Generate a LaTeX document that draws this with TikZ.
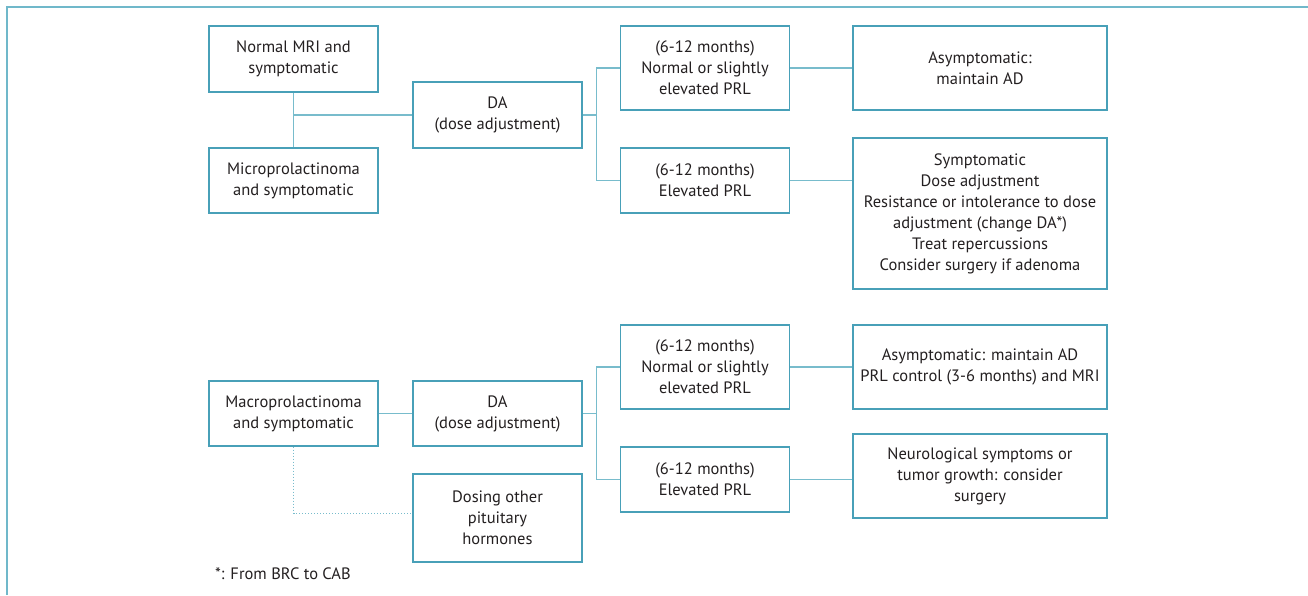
\documentclass[tikz,border=0pt]{standalone}
\usepackage{fontspec}
\setmainfont{PT Sans}
\definecolor{boxteal}{RGB}{72,160,184}
\definecolor{linkteal}{RGB}{120,188,204}
\definecolor{frameteal}{RGB}{112,184,202}
\definecolor{inkblack}{RGB}{35,31,32}
\newcommand*{\boxtextstyle}{\fontsize{16.5}{21}\selectfont\color{inkblack}}

\begin{document}
\begin{tikzpicture}[
   x = 1pt, y = -1pt,
   flowbox/.style = {
      draw         = boxteal,
      line width   = 1.3pt,
      align        = center,
      font         = \boxtextstyle,
      inner sep    = 0pt
   },
   narrowbox/.style = {flowbox, minimum width = 169pt},
   widebox/.style   = {flowbox, minimum width = 254pt},
   link/.style      = {draw = linkteal, line width = 1.2pt},
   hintlink/.style  = {draw = linkteal, line width = 1pt, dotted}
]
   \useasboundingbox (0,0) rectangle (1308,595);
   \draw[frameteal, line width = 2pt] (7,595) -- (7,7) -- (1308,7);

   % first branch
   \node[narrowbox, minimum height = 66pt] (nmri)  at (293.5, 59)   {Normal MRI and\\symptomatic};
   \node[narrowbox, minimum height = 65pt] (micro) at (293.5, 180.5) {Microprolactinoma\\and symptomatic};
   \node[narrowbox, minimum height = 66pt] (daone) at (497.5, 115)  {DA\\(dose adjustment)};
   \node[narrowbox, minimum height = 84pt] (cone)  at (705, 68)     {(6-12 months)\\Normal or slightly\\elevated PRL};
   \node[narrowbox, minimum height = 65pt] (ctwo)  at (705, 180.5)  {(6-12 months)\\Elevated PRL};
   \node[widebox,   minimum height = 84pt] (done)  at (980, 68)     {Asymptomatic:\\maintain AD};
   \node[widebox,   minimum height = 151pt] (dtwo) at (980, 213.5)  {Symptomatic\\Dose adjustment\\Resistance or intolerance to dose\\adjustment (change DA*)\\Treat repercussions\\Consider surgery if adenoma};

   % second branch
   \node[narrowbox, minimum height = 65pt] (macro)  at (293.5, 413.5) {Macroprolactinoma\\and symptomatic};
   \node[narrowbox, minimum height = 65pt] (datwo)  at (497.5, 413.5) {DA\\(dose adjustment)};
   \node[narrowbox, minimum height = 88pt] (dosing) at (497.5, 518)   {Dosing other\\pituitary\\hormones};
   \node[narrowbox, minimum height = 84pt] (cthree) at (705, 367)     {(6-12 months)\\Normal or slightly\\elevated PRL};
   \node[narrowbox, minimum height = 65pt] (cfour)  at (705, 479.5)   {(6-12 months)\\Elevated PRL};
   \node[widebox,   minimum height = 84pt] (dthree) at (980, 367)     {Asymptomatic: maintain AD\\PRL control (3-6 months) and MRI};
   \node[widebox,   minimum height = 84pt] (dfour)  at (980, 476)     {Neurological symptoms or\\tumor growth: consider\\surgery};

   \node[font = \boxtextstyle, anchor = west, inner sep = 0pt]
      (note) at (215, 574) {*: From BRC to CAB};

   % connectors
   \draw[link] (nmri.south) -- (micro.north);
   \draw[link] (nmri.south |- daone.west) -- (daone.west);
   \draw[link] (daone.east) -- ++(14,0) coordinate (forkone);
   \draw[link] (cone.west) -| (forkone) |- (ctwo.west);
   \draw[link] (cone.east) -- (done.west);
   \draw[link] (ctwo.east) -- (ctwo.east -| dtwo.west);

   \draw[link] (macro.east) -- (datwo.west);
   \draw[link] (datwo.east) -- ++(14,0) coordinate (forktwo);
   \draw[link] (cthree.west) -| (forktwo) |- (cfour.west);
   \draw[link] (cthree.east) -- (dthree.west);
   \draw[link] (cfour.east) -- (cfour.east -| dfour.west);
   \draw[hintlink] (macro.south) |- ([yshift = 5pt]dosing.west);
\end{tikzpicture}
\end{document}
